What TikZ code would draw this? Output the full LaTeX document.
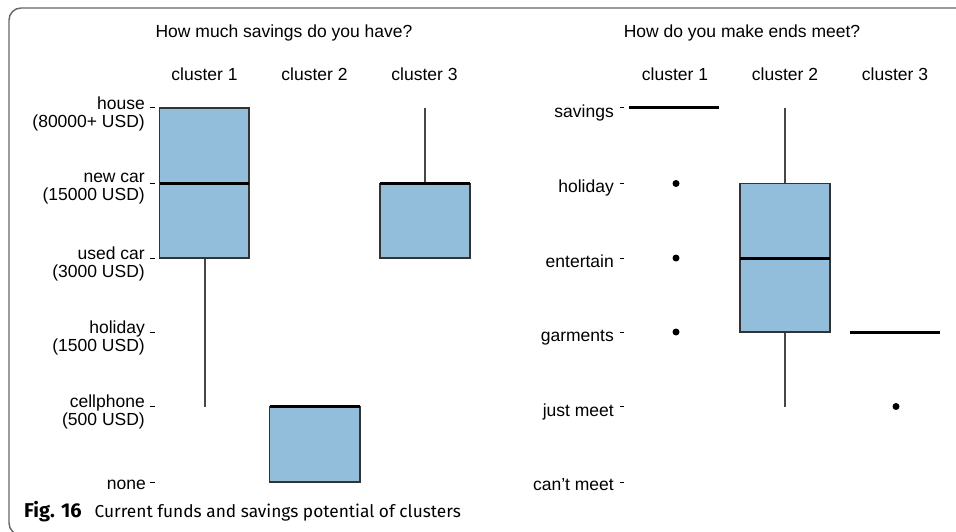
\documentclass[tikz,border=0pt]{standalone}
\usepackage{fontspec}
\setmainfont{Liberation Sans}
\newfontfamily\capfont{Fira Sans}
\definecolor{boxfill}{HTML}{92BEDC}
\definecolor{framecol}{HTML}{666666}
\tikzset{
  lbl/.style={font=\fontsize{17.5}{18}\selectfont, inner sep=0pt},
  ylbl/.style={lbl, align=right, anchor=east},
  rlbl/.style={lbl, anchor=base east},
  axtick/.style={line width=1pt, black},
  boxst/.style={fill=boxfill, draw=black!80, line width=1.3pt},
  med/.style={line width=3pt, black},
  whisk/.style={draw=black!72, line width=1.3pt},
  dotst/.style={circle, fill=black, inner sep=0pt, minimum size=7pt},
  frame/.style={draw=framecol, line width=1.4pt},
}
\begin{document}
\begin{tikzpicture}[x=1pt,y=-1pt]
\useasboundingbox (0,0) rectangle (956,532);
\begin{scope}
  \clip (0,0) rectangle (956,532);
  \draw[frame, rounded corners=12pt] (1000,8) -- (9,8) -- (9,535) -- (100,535);
\end{scope}

% ---------- left panel ----------
\node[lbl] (tL) at (284,33) {How much savings do you have?};
\node[lbl] (cL1) at (204.5,74) {cluster 1};
\node[lbl] (cL2) at (314.5,74) {cluster 2};
\node[lbl] (cL3) at (424.5,74) {cluster 3};

\node[ylbl] (yL1) at (145,113.5) {house\\(80000+ USD)};
\node[ylbl] (yL2) at (145,189) {new car\\(15000 USD)};
\node[ylbl] (yL3) at (145,263.5) {used car\\(3000 USD)};
\node[ylbl] (yL4) at (145,337.5) {holiday\\(1500 USD)};
\node[ylbl] (yL5) at (145,412) {cellphone\\(500 USD)};
\node[rlbl] (yL6) at (146,489) {none};
\foreach \y in {108,183.5,258,332,406.5,482}
  \draw[axtick] (149.5,\y) -- (154.5,\y);

% cluster 1
\draw[whisk] (205,258) -- (205,406.5);
\draw[boxst] (159.5,108) rectangle (249,258);
\draw[med] (159.5,183.5) -- (249,183.5);
% cluster 2
\draw[boxst] (269.5,406.5) rectangle (360,482);
\draw[med] (269.5,406.5) -- (360,406.5);
% cluster 3
\draw[whisk] (425,108) -- (425,183.5);
\draw[boxst] (380,183.5) rectangle (470,258);
\draw[med] (380,183.5) -- (470,183.5);

% ---------- right panel ----------
\node[lbl] (tR) at (742,33) {How do you make ends meet?};
\node[lbl] (cR1) at (675,74) {cluster 1};
\node[lbl] (cR2) at (785,74) {cluster 2};
\node[lbl] (cR3) at (895,74) {cluster 3};

\node[rlbl] (yR1) at (614,118) {savings};
\node[rlbl] (yR2) at (614,193) {holiday};
\node[rlbl] (yR3) at (614,267.5) {entertain};
\node[rlbl] (yR4) at (614,341.5) {garments};
\node[rlbl] (yR5) at (614,416) {just meet};
\node[rlbl] (yR6) at (614,490.5) {can't meet};
\foreach \y in {108,183.5,258,332,406.5,482}
  \draw[axtick] (619.5,\y) -- (624,\y);

% cluster 1
\draw[med] (629,108) -- (719,108);
\node[dotst] (d1) at (676,183.5) {};
\node[dotst] (d2) at (676,258) {};
\node[dotst] (d3) at (676,332) {};
% cluster 2
\draw[whisk] (785,108) -- (785,183.5);
\draw[whisk] (785,332) -- (785,406.5);
\draw[boxst] (740,183.5) rectangle (830,332);
\draw[med] (740,258) -- (830,258);
% cluster 3
\draw[med] (850,332) -- (940,332);
\node[dotst] (d4) at (896,406.5) {};

% ---------- caption ----------
\node[anchor=base west, inner sep=0pt, font=\capfont\fontsize{17.3}{20}\selectfont] (cap) at (24,517)
  {{\fontsize{20}{20}\selectfont\bfseries Fig. 16}\hspace{13pt}Current funds and savings potential of clusters};
\end{tikzpicture}
\end{document}
